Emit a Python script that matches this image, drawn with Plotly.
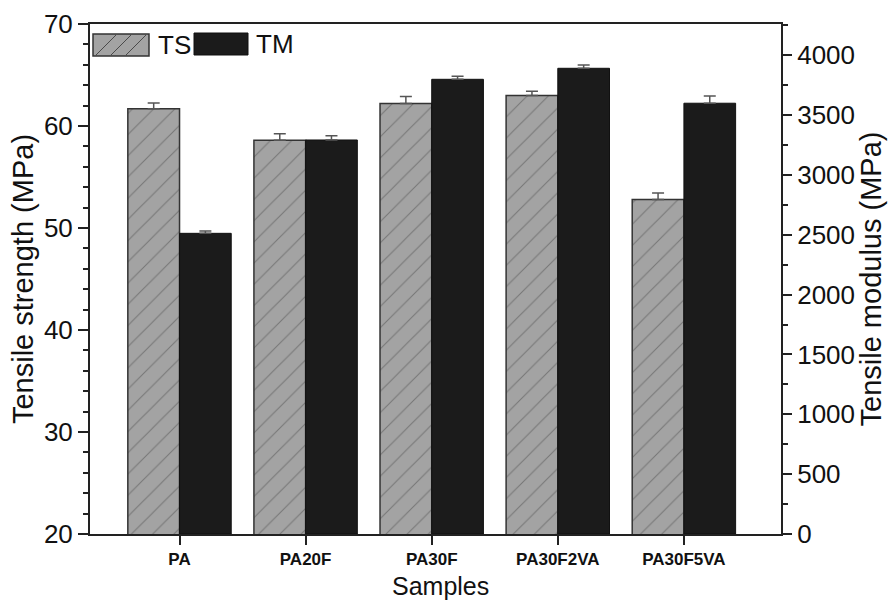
import plotly.graph_objects as go

samples = ["PA", "PA20F", "PA30F", "PA30F2VA", "PA30F5VA"]
ts = [61.7, 58.6, 62.2, 63.0, 52.8]
ts_err = [0.55, 0.65, 0.7, 0.4, 0.62]
tm = [2512, 3292, 3799, 3891, 3599]
tm_err = [20, 36, 25, 28, 61]

W, H = 893, 602
L, R, T, B = 90, 781, 24, 534


def px(x):
    return (x - L) / (R - L)


def py(y):
    return (B - y) / (B - T)


fig = go.Figure()
fig.add_trace(go.Bar(
    x=samples, y=ts, name="TS", yaxis="y", offsetgroup="ts",
    width=0.41, offset=-0.41,
    marker=dict(color="#a3a3a3", line=dict(color="#333333", width=1.5),
                pattern=dict(shape="/", fgcolor="#4a4a4a", bgcolor="#a3a3a3",
                             size=15, solidity=0.07)),
    error_y=dict(type="data", symmetric=False, array=ts_err,
                 arrayminus=[0] * len(ts_err), color="#555555",
                 thickness=1.5, width=6),
    showlegend=False,
))
fig.add_trace(go.Bar(
    x=samples, y=tm, name="TM", yaxis="y2", offsetgroup="tm",
    width=0.41, offset=0,
    marker=dict(color="#1b1b1b", line=dict(color="#111111", width=1)),
    error_y=dict(type="data", symmetric=False, array=tm_err,
                 arrayminus=[0] * len(tm_err), color="#555555",
                 thickness=1.5, width=6),
    showlegend=False,
))

font = "Liberation Sans, Arial, sans-serif"
axcol = "#222222"

fig.update_layout(
    width=W, height=H,
    margin=dict(l=L, r=W - R, t=T, b=H - B, autoexpand=False),
    paper_bgcolor="white", plot_bgcolor="white",
    font=dict(family=font, color="#111111"),
    barmode="overlay",
    xaxis=dict(
        type="category", range=[-0.71, 4.77], automargin=False,
        showline=True, linecolor=axcol, linewidth=2, mirror=True,
        ticks="outside", ticklen=9, tickwidth=1.5, tickcolor=axcol,
        tickfont=dict(family="Liberation Sans Narrow, Arial Narrow, Liberation Sans", size=17,
                      color="#111111", weight="bold"),
        showgrid=False,
    ),
    yaxis=dict(
        range=[20, 70], tickvals=[20, 30, 40, 50, 60, 70], automargin=False,
        showline=True, linecolor=axcol, linewidth=2,
        ticks="outside", ticklen=10, tickwidth=1.5, tickcolor=axcol,
        minor=dict(dtick=2, ticks="outside", ticklen=5, tickwidth=1.5, tickcolor=axcol),
        tickfont=dict(size=26, family=font),
        title=dict(text="Tensile strength (MPa)", font=dict(size=29, family=font), standoff=2),
        showgrid=False, zeroline=False,
    ),
    yaxis2=dict(
        range=[0, 4261], overlaying="y", side="right", automargin=False,
        tickvals=[0, 500, 1000, 1500, 2000, 2500, 3000, 3500, 4000],
        showline=True, linecolor=axcol, linewidth=2,
        ticks="outside", ticklen=9, tickwidth=1.5, tickcolor=axcol,
        minor=dict(dtick=250, ticks="outside", ticklen=5, tickwidth=1.5, tickcolor=axcol),
        tickfont=dict(size=26, family=font),
        title=dict(text="Tensile modulus (MPa)", font=dict(size=29, family=font), standoff=2),
        showgrid=False, zeroline=False,
    ),
)

# custom legend (large swatches as in the reference)
shapes = [
    dict(type="rect", xref="paper", yref="paper",
         x0=px(93), x1=px(149), y0=py(56), y1=py(34),
         fillcolor="#a3a3a3", line=dict(color="#333333", width=1.5)),
    dict(type="rect", xref="paper", yref="paper",
         x0=px(194), x1=px(248), y0=py(55), y1=py(33),
         fillcolor="#1b1b1b", line=dict(color="#111111", width=1)),
]
for x0 in [96, 111, 126]:
    shapes.append(dict(type="line", xref="paper", yref="paper",
                       x0=px(x0), y0=py(55), x1=px(x0 + 20), y1=py(35),
                       line=dict(color="#4a4a4a", width=1)))
fig.update_layout(shapes=shapes)
fig.add_annotation(text="TS", xref="paper", yref="paper", x=px(156), y=py(45),
                   xanchor="left", yanchor="middle", showarrow=False,
                   font=dict(size=26, family=font, color="#111111"))
fig.add_annotation(text="TM", xref="paper", yref="paper", x=px(254), y=py(44),
                   xanchor="left", yanchor="middle", showarrow=False,
                   font=dict(size=26, family=font, color="#111111"))
fig.add_annotation(text="Samples", xref="paper", yref="paper", x=px(440), y=py(586),
                   xanchor="center", yanchor="middle", showarrow=False,
                   font=dict(size=25, family=font, color="#111111"))

fig.write_html("out.html")
